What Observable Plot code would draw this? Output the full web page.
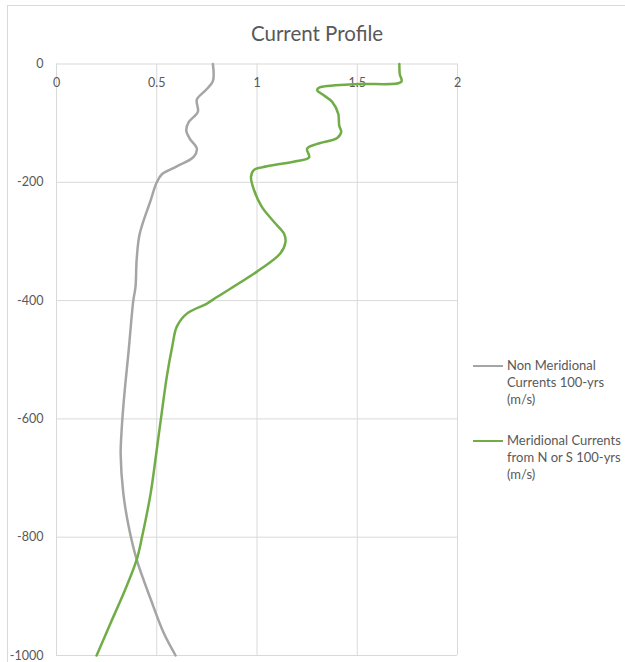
<!DOCTYPE html>
<html><head><meta charset="utf-8">
<script src="https://cdn.jsdelivr.net/npm/d3@7"></script>
<script src="https://cdn.jsdelivr.net/npm/@observablehq/plot@0.6"></script>
<style>
body{margin:0;background:#fff;}
#wrap{position:relative;width:625px;height:662px;overflow:hidden;font-family:Lato,"Open Sans",sans-serif;color:#595959;background:#fff;}
#frame{position:absolute;left:7px;top:5px;width:800px;height:800px;border-left:1px solid #d9d9d9;border-top:1px solid #d9d9d9;}
#chart{position:absolute;left:0;top:0;}
#title{position:absolute;left:0;width:634px;top:22px;text-align:center;font-size:20.5px;line-height:22px;color:#595959;}
.leg{position:absolute;left:507px;font-size:13px;line-height:17px;color:#595959;}
.sw{position:absolute;left:473px;width:30px;height:0;border-top-width:2.5px;border-top-style:solid;}
</style>
</head><body>
<div id="wrap">
  <div id="frame"></div>
  <div id="chart"></div>
  <div id="title">Current Profile</div>
  <div class="sw" style="top:365px;border-top-color:#a5a5a5;"></div>
  <div class="leg" style="top:357px;">Non Meridional<br>Currents 100-yrs<br>(m/s)</div>
  <div class="sw" style="top:440px;border-top-color:#70ad47;"></div>
  <div class="leg" style="top:432px;">Meridional Currents<br>from N or S 100-yrs<br>(m/s)</div>
</div>
<script>
const xTicks = [0, 0.5, 1, 1.5, 2];
const yTicks = [0, -200, -400, -600, -800, -1000];

const nonMeridionalDepth = [0, -29, -44, -60, -81, -98, -112, -126, -143, -157, -173, -186, -200, -230, -287, -330, -377, -400, -484, -568, -630, -660, -725, -782, -838, -905, -962, -1000];
const nonMeridionalSpeed = [0.78, 0.78, 0.745, 0.70, 0.705, 0.66, 0.647, 0.664, 0.70, 0.684, 0.60, 0.527, 0.50, 0.47, 0.415, 0.40, 0.394, 0.383, 0.36, 0.336, 0.323, 0.32, 0.333, 0.36, 0.40, 0.47, 0.535, 0.594];

const meridionalDepth = [0, -17, -30, -34, -40, -44, -53, -64, -84, -104, -115, -125, -135, -143, -158, -164, -173, -179, -191, -213, -242, -267, -287, -301, -320, -351, -394, -405, -422, -444, -478, -529, -602, -652, -725, -799, -838, -894, -945, -1000];
const meridionalSpeed = [1.71, 1.712, 1.72, 1.5, 1.31, 1.30, 1.333, 1.375, 1.405, 1.41, 1.42, 1.40, 1.30, 1.25, 1.26, 1.20, 1.05, 0.985, 0.97, 0.985, 1.025, 1.085, 1.135, 1.142, 1.117, 1.0, 0.80, 0.75, 0.65, 0.60, 0.577, 0.55, 0.52, 0.50, 0.47, 0.427, 0.40, 0.336, 0.27, 0.20];

const gray = nonMeridionalDepth.map((d, i) => ({d, v: nonMeridionalSpeed[i]}));
const green = meridionalDepth.map((d, i) => ({d, v: meridionalSpeed[i]}));

const chart = Plot.plot({
  width: 625,
  height: 662,
  marginLeft: 56,
  marginRight: 168,
  marginTop: 63.5,
  marginBottom: 7,
  x: {domain: [0, 2], axis: null},
  y: {domain: [-1000, 0]},
  style: {fontFamily: "Lato, 'Open Sans', sans-serif", fontSize: "12.5px", color: "#595959", background: "transparent"},
  marks: [
    Plot.gridX(xTicks, {stroke: "#d9d9d9", strokeOpacity: 1, strokeWidth: 1}),
    Plot.gridY(yTicks, {stroke: "#d9d9d9", strokeOpacity: 1, strokeWidth: 1}),
    Plot.axisY(yTicks, {tickSize: 0, tickPadding: 13, label: null, fill: "#595959", tickFormat: d => String(d)}),
    Plot.text(xTicks, {x: d => d, y: d => 0, dy: 19, text: d => String(d), fill: "#595959", fontSize: 12.5}),
    Plot.line(gray, {x: "v", y: "d", stroke: "#a5a5a5", strokeWidth: 2.5, curve: "catmull-rom"}),
    Plot.line(green, {x: "v", y: "d", stroke: "#70ad47", strokeWidth: 2.5, curve: "catmull-rom"})
  ]
});
document.getElementById("chart").appendChild(chart);
</script>
</body></html>
